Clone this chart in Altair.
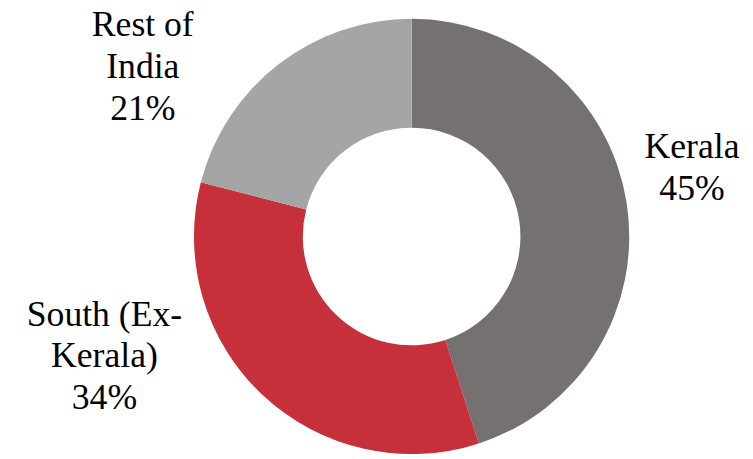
import altair as alt
import pandas as pd

categories = ["Kerala", "South (Ex-Kerala)", "Rest of India"]
label_names = ["Kerala", "South (Ex-\nKerala)", "Rest of\nIndia"]
shares = [45, 34, 21]
order = [0, 1, 2]
colors = ["#767171", "#C5303A", "#A5A5A5"]

df = pd.DataFrame({
    "category": categories,
    "label_name": label_names,
    "share": shares,
    "order": order,
})

base = alt.Chart(df)
theta_scale = alt.Scale(domain=[0, 100], range=[0, 6.283185307179586])

arcs = base.mark_arc(outerRadius=220, innerRadius=110).encode(
    theta=alt.Theta("share:Q", stack=True, scale=theta_scale),
    color=alt.Color("category:N", scale=alt.Scale(domain=categories, range=colors), legend=None),
    order=alt.Order("order:Q"),
)

# label offsets (layout only)
label_layout = {
    "Kerala": (-3, -34),
    "South (Ex-Kerala)": (-112, -121),
    "Rest of India": (-94, 27),
}


def label_layer(cat, dx, dy):
    return (
        base.transform_window(cum="sum(share)", sort=[alt.SortField("order")])
        .transform_calculate(
            mid="datum.cum - datum.share / 2",
            text="datum.label_name + '\\n' + datum.share + '%'",
        )
        .transform_filter(alt.datum.category == cat)
        .mark_text(
            radius=290,
            dx=dx,
            dy=dy,
            fontSize=36,
            font="Liberation Serif",
            lineBreak="\n",
            lineHeight=42,
            align="center",
            baseline="alphabetic",
            color="black",
        )
        .encode(
            theta=alt.Theta("mid:Q", scale=theta_scale, stack=False),
            text="text:N",
        )
    )


layers = [arcs] + [label_layer(c, *label_layout[c]) for c in categories]

chart = (
    alt.layer(*layers)
    .properties(
        width=600,
        height=441,
        autosize=alt.AutoSizeParams(type="none"),
        padding={"left": 108, "top": 8, "right": 37, "bottom": 2},
        background="white",
    )
    .configure_view(stroke=None)
)

chart.save("out.html", embed_options={"renderer": "svg", "actions": False})
